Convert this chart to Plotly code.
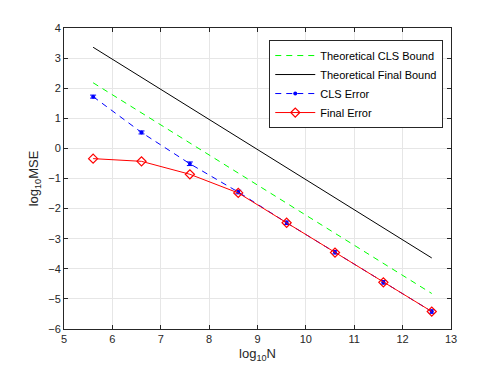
import plotly.graph_objects as go
import numpy as np

# log10 N sample points
log_n = [5.602, 6.602, 7.602, 8.602, 9.602, 10.602, 11.602, 12.602]

cls_bound = [2.18, 1.18, 0.18, -0.82, -1.82, -2.82, -3.82, -4.82]
final_bound = [3.36, 2.36, 1.36, 0.36, -0.64, -1.64, -2.64, -3.64]
cls_error = [1.72, 0.53, -0.51, -1.45, -2.47, -3.45, -4.45, -5.42]
cls_err_bar = [0.05, 0.05, 0.06, 0.06, 0.06, 0.06, 0.06, 0.06]
final_error = [-0.34, -0.43, -0.86, -1.48, -2.47, -3.46, -4.45, -5.42]

x_ticks = [5, 6, 7, 8, 9, 10, 11, 12, 13]
y_ticks = [4, 3, 2, 1, 0, -1, -2, -3, -4, -5, -6]

fig = go.Figure()

fig.add_trace(go.Scatter(
    x=log_n, y=cls_bound, mode="lines", name="Theoretical CLS Bound",
    line=dict(color="#00ff00", width=1, dash="6px,5px"),
))
fig.add_trace(go.Scatter(
    x=log_n, y=final_bound, mode="lines", name="Theoretical Final Bound",
    line=dict(color="#000000", width=1),
))
fig.add_trace(go.Scatter(
    x=log_n, y=cls_error, mode="lines+markers", name="CLS Error",
    line=dict(color="#0000ff", width=1, dash="6px,5px"),
    marker=dict(color="#0000ff", size=4, symbol="circle"),
    error_y=dict(type="data", array=cls_err_bar, color="#0000ff", thickness=1, width=3),
))
fig.add_trace(go.Scatter(
    x=log_n, y=final_error, mode="lines+markers", name="Final Error",
    line=dict(color="#ff0000", width=1),
    marker=dict(color="#ff0000", size=7, symbol="diamond-open", line=dict(width=1.2)),
))

axis_common = dict(
    showgrid=True, gridcolor="#e6e6e6", gridwidth=1,
    showline=True, linecolor="#262626", linewidth=1, mirror="ticks",
    ticks="inside", ticklen=4, tickcolor="#262626",
    zeroline=False, tickfont=dict(size=11, color="#262626"),
)

fig.update_xaxes(
    range=[5, 13], tickvals=x_ticks,
    title=dict(text="log<sub>10</sub>N", font=dict(size=13, color="#262626"), standoff=4),
    **axis_common,
)
fig.update_yaxes(
    range=[-6, 4], tickvals=y_ticks,
    title=dict(text="log<sub>10</sub>MSE", font=dict(size=13, color="#262626"), standoff=6),
    **axis_common,
)

fig.update_layout(
    width=498, height=374,
    margin=dict(l=56, r=55, t=20, b=53),
    paper_bgcolor="white", plot_bgcolor="white",
    font=dict(family="Liberation Sans, Arial, sans-serif", color="#262626"),
    legend=dict(
        x=0.98, y=0.96, xanchor="right", yanchor="top",
        bgcolor="white", bordercolor="#262626", borderwidth=1,
        font=dict(size=11, color="#000000"),
        tracegroupgap=0, itemwidth=40,
    ),
)

fig.write_html("out.html")
